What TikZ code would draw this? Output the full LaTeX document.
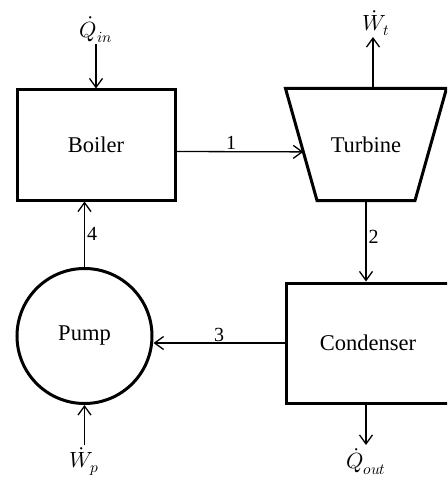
\documentclass[tikz,border=0pt]{standalone}
\usepackage{fontspec}
\usepackage{unicode-math}
\setmainfont{Liberation Serif}
\usetikzlibrary{arrows.meta,positioning,calc}

\begin{document}
\begin{tikzpicture}[x=1pt, y=-1pt, >={Straight Barb[length=9pt,width=13pt]},
  unit/.style={draw, line width=3pt, inner sep=0pt, font=\fontsize{22.5}{27}\selectfont},
  flow/.style={->, line width=1.3pt},
  lbl/.style={inner sep=1pt, font=\fontsize{22}{26}\selectfont},
  num/.style={inner sep=2pt, font=\fontsize{20}{24}\selectfont}]
\useasboundingbox (0,0) rectangle (447,492);
\clip (0,0) rectangle (447,492);
\node[unit, rectangle, minimum width=158pt, minimum height=110pt] (boiler) at (96,145) {Boiler};
\node[unit, draw=none, rectangle, minimum width=158pt, minimum height=109pt] (turbine) at (366,144.5) {Turbine};
\draw[line width=3pt, line join=miter] (turbine.north west) -- (turbine.north east) -- ([xshift=-31.5pt]turbine.south east) -- ([xshift=31.5pt]turbine.south west) -- cycle;
\node[unit, rectangle, minimum width=164pt, minimum height=120pt] (condenser) at (368,343) {Condenser};
\node[unit, circle, minimum size=135pt] (pump) at (84.5,336) {Pump};
\coordinate (qin) at (96,44);
\coordinate (wt) at (373,37);
\coordinate (qout) at (366,445);
\coordinate (wp) at (84.5,445);
\node[lbl, above=0pt of qin] (qinlbl) {$\dot{Q}_{in}$};
\node[lbl, above=0pt of wt, xshift=3pt] (wtlbl) {$\dot{W}_{t}$};
\node[lbl, below=2pt of qout] (qoutlbl) {$\dot{Q}_{out}$};
\node[lbl, below=1pt of wp] (wplbl) {$\dot{W}_{p}$};
\draw[flow] (qin) -- (boiler.north);
\draw[flow] (wt |- turbine.north) -- (wt);
\draw[flow] ([yshift=-6.5pt]boiler.east) -- node[num, above, pos=.43] {1} ($(turbine.north west)!.566!([xshift=31.5pt]turbine.south west)$);
\draw[flow] (turbine.south) -- node[num, right, pos=.45] {2} (turbine.south |- condenser.north);
\draw[flow] (condenser.west) -- node[num, above, inner sep=1pt] {3} (condenser.west -| pump.east);
\draw[flow] (pump.north) -- node[num, right] {4} (pump.north |- boiler.south);
\draw[flow] (qout |- condenser.south) -- (qout);
\draw[flow] (wp) -- (pump.south);
\end{tikzpicture}
\end{document}
